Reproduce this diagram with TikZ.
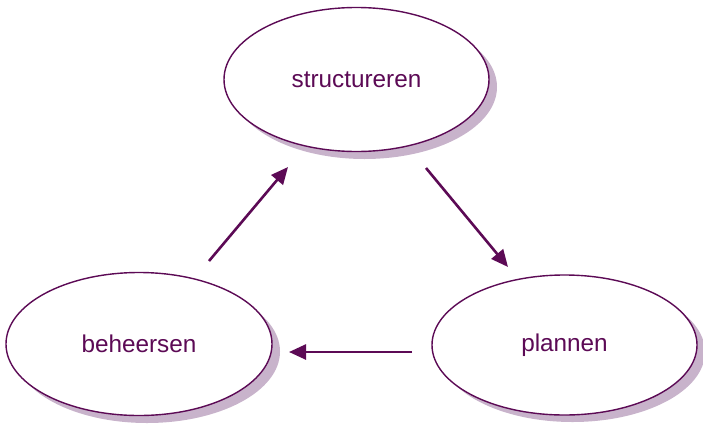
\documentclass[tikz,border=0pt]{standalone}
\usepackage{fontspec}
\setmainfont{Liberation Sans}
\usetikzlibrary{shapes.geometric,arrows.meta}
\definecolor{plum}{HTML}{5C0A55}
\definecolor{shade}{HTML}{C8B3CB}
\tikzset{
  phase/.style={ellipse, draw=plum, line width=1.4pt, fill=white, text=plum,
    minimum width=#1, font=\fontsize{24.3}{28}\selectfont, inner sep=0pt},
  phaseshadow/.style={ellipse, fill=shade, draw=none, minimum width=#1, inner sep=0pt},
  flow/.style={draw=plum, line width=2.6pt, -{Triangle[length=17pt,width=15pt]}}
}
\begin{document}
\begin{tikzpicture}[x=1pt,y=-1pt]
\useasboundingbox (0,0) rectangle (703,423);
% shadows
\node[phaseshadow=265pt, minimum height=144pt] (s1) at (364.5,87) {};
\node[phaseshadow=266pt, minimum height=143pt] (s2) at (147,351.5) {};
\node[phaseshadow=265pt, minimum height=140pt] (s3) at (572.5,352) {};
% ellipses
\node[phase=265pt, minimum height=144pt] (structureren) at (356.5,79.5) {\raisebox{-1.5pt}{structureren}};
\node[phase=266pt, minimum height=143pt] (beheersen) at (139,344) {\raisebox{-1.5pt}{beheersen}};
\node[phase=265pt, minimum height=140pt] (plannen) at (564.5,345) {\raisebox{-1.5pt}{plannen}};
% arrow endpoints
\coordinate (a1) at (209,261);
\coordinate (b1) at (288,167);
\coordinate (a2) at (426,168);
\coordinate (b2) at (508,267);
\coordinate (a3) at (412,352);
\coordinate (b3) at (289,352);
\draw[flow] (a1) -- (b1);
\draw[flow] (a2) -- (b2);
\draw[flow] (a3) -- (b3);
\end{tikzpicture}
\end{document}
